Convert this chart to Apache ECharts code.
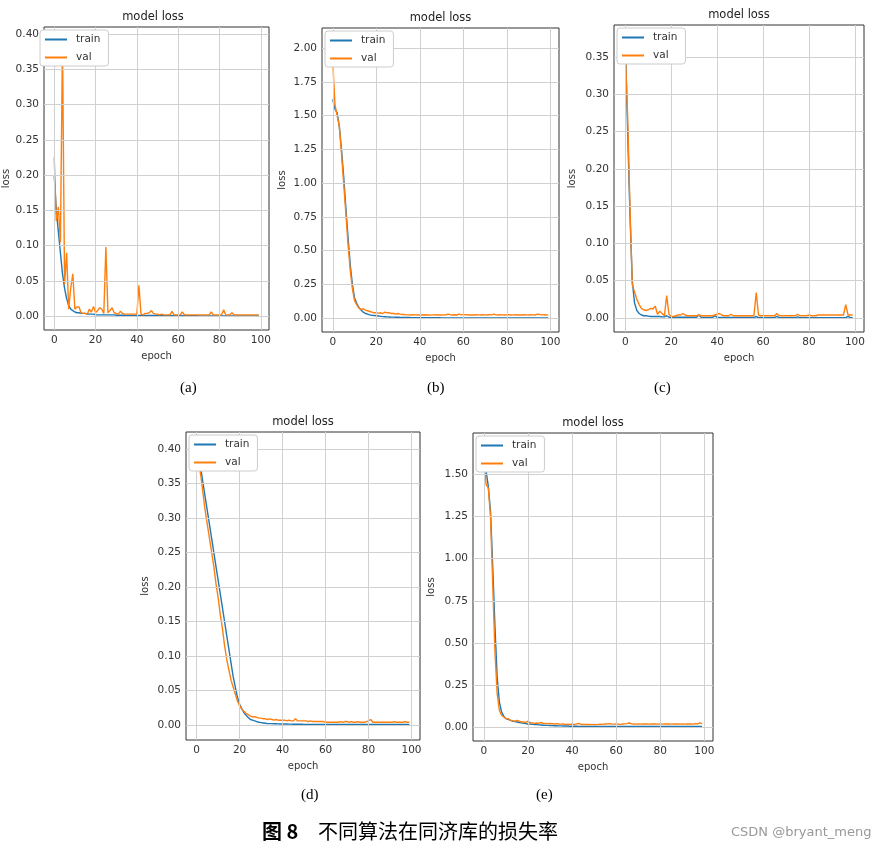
<!DOCTYPE html>
<html>
<head>
<meta charset="utf-8">
<script src="https://cdn.jsdelivr.net/npm/echarts@6/dist/echarts.min.js"></script>
<style>html,body{margin:0;padding:0;background:#fff}#main{width:878px;height:852px}</style>
</head>
<body>
<div id="main"></div>
<script>
// epoch loss curves
var trainA = [0.200,0.150,0.120,0.090,0.060,0.040,0.025,0.015,0.010,0.008,0.006,0.005,0.005,0.004,0.004,0.004,0.003,0.003,0.003,0.003,
  0.002,0.002,0.002,0.002,0.002,0.002,0.002,0.002,0.002,0.002,0.0015,0.0015,0.0015,0.0015,0.0015,0.0012,0.0012,0.0012,0.0012,0.0012,
  0.001,0.001,0.001,0.001,0.001,0.001,0.001,0.001,0.001,0.001,0.0008,0.0008,0.0008,0.0008,0.0008,0.0008,0.0008,0.0008,0.0008,0.0008,
  0.0006,0.0006,0.0006,0.0006,0.0006,0.0006,0.0006,0.0006,0.0006,0.0006,0.0005,0.0005,0.0005,0.0005,0.0005,0.0005,0.0005,0.0005,0.0005,0.0005,
  0.0005,0.0005,0.0005,0.0005,0.0005,0.0005,0.0005,0.0005,0.0005,0.0005,0.0004,0.0004,0.0004,0.0004,0.0004,0.0004,0.0004,0.0004,0.0004,0.0004];
var valA = [0.225,0.135,0.155,0.105,0.390,0.045,0.090,0.010,0.040,0.060,0.010,0.013,0.013,0.005,0.004,0.004,0.003,0.010,0.006,0.014,
  0.005,0.008,0.012,0.010,0.004,0.098,0.005,0.008,0.012,0.005,0.004,0.003,0.007,0.004,0.003,0.003,0.003,0.003,0.003,0.003,
  0.003,0.044,0.003,0.002,0.004,0.004,0.005,0.008,0.004,0.003,0.003,0.002,0.003,0.002,0.002,0.002,0.002,0.007,0.002,0.002,
  0.002,0.002,0.006,0.002,0.002,0.002,0.002,0.002,0.002,0.002,0.002,0.002,0.002,0.002,0.002,0.002,0.006,0.002,0.002,0.002,
  0.002,0.002,0.009,0.002,0.002,0.002,0.005,0.002,0.002,0.002,0.002,0.002,0.002,0.002,0.002,0.002,0.002,0.002,0.002,0.002];

var trainB = [1.62,1.55,1.52,1.42,1.25,1.05,0.82,0.60,0.40,0.25,0.15,0.11,0.08,0.06,0.045,0.035,0.030,0.025,0.022,0.020,
  0.018,0.016,0.014,0.012,0.011,0.010,0.009,0.008,0.008,0.007,0.007,0.006,0.006,0.005,0.005,0.005,0.004,0.004,0.004,0.003,
  0.003,0.003,0.003,0.003,0.003,0.003,0.003,0.003,0.003,0.003,0.002,0.002,0.002,0.002,0.002,0.002,0.002,0.002,0.002,0.002,
  0.002,0.002,0.002,0.002,0.002,0.002,0.002,0.002,0.002,0.002,0.002,0.002,0.002,0.002,0.002,0.002,0.002,0.002,0.002,0.002,
  0.002,0.002,0.002,0.002,0.002,0.002,0.002,0.002,0.002,0.002,0.002,0.002,0.002,0.002,0.002,0.002,0.002,0.002,0.002,0.002];
var valB = [1.90,1.58,1.50,1.42,1.22,1.00,0.78,0.55,0.36,0.22,0.13,0.10,0.075,0.065,0.070,0.060,0.055,0.050,0.045,0.040,
  0.040,0.038,0.040,0.035,0.045,0.040,0.040,0.035,0.035,0.030,0.035,0.030,0.028,0.027,0.025,0.025,0.024,0.026,0.025,0.024,
  0.025,0.024,0.026,0.024,0.025,0.023,0.025,0.026,0.024,0.025,0.024,0.025,0.026,0.030,0.025,0.024,0.026,0.024,0.030,0.025,
  0.028,0.025,0.026,0.024,0.025,0.024,0.026,0.025,0.024,0.026,0.025,0.024,0.026,0.025,0.030,0.025,0.024,0.026,0.025,0.024,
  0.025,0.026,0.024,0.025,0.026,0.024,0.025,0.024,0.026,0.025,0.024,0.026,0.025,0.024,0.030,0.028,0.025,0.026,0.024,0.025];

var trainC = [0.370,0.250,0.140,0.050,0.020,0.010,0.006,0.004,0.003,0.003,0.0025,0.002,0.002,0.002,0.002,0.002,0.0015,0.0015,0.003,0.001,
  0.001,0.001,0.001,0.001,0.001,0.001,0.001,0.001,0.001,0.001,0.001,0.001,0.004,0.001,0.0008,0.0008,0.0008,0.0008,0.0008,0.003,
  0.0008,0.0008,0.0008,0.0008,0.0008,0.0008,0.0008,0.0006,0.0006,0.0006,0.0006,0.0006,0.0006,0.0006,0.0006,0.0006,0.0006,0.002,0.0006,0.0006,
  0.0005,0.0005,0.0005,0.0005,0.0005,0.0005,0.002,0.0005,0.0005,0.0005,0.0005,0.0005,0.0005,0.0005,0.0005,0.0015,0.0005,0.0005,0.0005,0.0005,
  0.0005,0.0005,0.0005,0.0005,0.0005,0.0005,0.0005,0.0005,0.0005,0.0005,0.0005,0.0005,0.0005,0.0005,0.0005,0.0005,0.0005,0.002,0.0005,0.0005];
var valC = [0.355,0.270,0.150,0.045,0.035,0.025,0.018,0.013,0.011,0.010,0.011,0.013,0.012,0.016,0.005,0.009,0.006,0.003,0.030,0.005,
  0.002,0.002,0.003,0.004,0.004,0.006,0.004,0.003,0.003,0.003,0.003,0.003,0.004,0.003,0.003,0.003,0.003,0.003,0.003,0.004,
  0.005,0.006,0.004,0.003,0.003,0.003,0.005,0.003,0.003,0.003,0.003,0.003,0.003,0.003,0.003,0.003,0.003,0.034,0.004,0.003,
  0.003,0.003,0.003,0.003,0.003,0.003,0.006,0.003,0.003,0.003,0.003,0.003,0.003,0.003,0.003,0.005,0.003,0.003,0.003,0.003,
  0.004,0.003,0.003,0.003,0.004,0.004,0.004,0.004,0.004,0.004,0.004,0.004,0.004,0.004,0.004,0.004,0.018,0.004,0.004,0.004];

var trainD = [0.400,0.385,0.370,0.350,0.330,0.310,0.290,0.270,0.250,0.230,0.210,0.190,0.170,0.150,0.130,0.110,0.090,0.070,0.055,0.040,
  0.030,0.024,0.018,0.014,0.011,0.008,0.007,0.006,0.005,0.004,0.0035,0.003,0.0025,0.002,0.002,0.002,0.0018,0.0018,0.0016,0.0015,
  0.0015,0.0014,0.0014,0.0013,0.0013,0.0012,0.0012,0.0012,0.0011,0.0011,0.001,0.001,0.001,0.001,0.001,0.001,0.001,0.001,0.001,0.001,
  0.001,0.001,0.001,0.001,0.001,0.001,0.001,0.001,0.001,0.001,0.001,0.001,0.001,0.001,0.001,0.001,0.001,0.001,0.001,0.001,
  0.001,0.001,0.001,0.001,0.001,0.001,0.001,0.001,0.001,0.001,0.001,0.001,0.001,0.001,0.001,0.001,0.001,0.001,0.001,0.001];
var valD = [0.400,0.380,0.360,0.335,0.310,0.290,0.270,0.250,0.230,0.205,0.185,0.160,0.140,0.115,0.095,0.080,0.065,0.055,0.045,0.035,
  0.028,0.023,0.020,0.017,0.015,0.013,0.012,0.012,0.011,0.010,0.010,0.009,0.009,0.008,0.009,0.008,0.007,0.008,0.007,0.007,
  0.007,0.007,0.006,0.007,0.006,0.006,0.009,0.006,0.006,0.006,0.006,0.006,0.005,0.006,0.005,0.005,0.005,0.005,0.005,0.005,
  0.004,0.004,0.004,0.004,0.004,0.004,0.004,0.005,0.004,0.005,0.005,0.004,0.005,0.004,0.004,0.005,0.004,0.004,0.004,0.005,
  0.006,0.008,0.004,0.004,0.004,0.004,0.004,0.004,0.004,0.004,0.004,0.004,0.005,0.004,0.004,0.004,0.004,0.005,0.004,0.004];

var trainE = [1.66,1.52,1.43,1.28,0.95,0.60,0.30,0.15,0.09,0.065,0.050,0.045,0.040,0.035,0.032,0.030,0.027,0.025,0.022,0.020,
  0.018,0.017,0.016,0.015,0.014,0.013,0.012,0.011,0.010,0.010,0.009,0.009,0.008,0.008,0.007,0.007,0.006,0.006,0.006,0.005,
  0.005,0.005,0.005,0.004,0.004,0.004,0.004,0.004,0.004,0.004,0.003,0.003,0.003,0.003,0.003,0.003,0.003,0.003,0.003,0.003,
  0.003,0.003,0.003,0.003,0.003,0.003,0.003,0.003,0.003,0.003,0.003,0.003,0.003,0.003,0.003,0.003,0.003,0.003,0.003,0.003,
  0.003,0.003,0.003,0.003,0.003,0.003,0.003,0.003,0.003,0.003,0.003,0.003,0.003,0.003,0.003,0.003,0.003,0.003,0.003,0.003];
var valE = [1.62,1.44,1.42,1.25,0.85,0.45,0.20,0.10,0.07,0.06,0.05,0.05,0.04,0.038,0.035,0.040,0.035,0.030,0.030,0.028,
  0.035,0.025,0.025,0.022,0.024,0.022,0.028,0.020,0.022,0.020,0.022,0.020,0.018,0.020,0.018,0.017,0.018,0.016,0.017,0.016,
  0.017,0.016,0.018,0.022,0.016,0.015,0.016,0.015,0.016,0.014,0.015,0.014,0.016,0.017,0.016,0.018,0.019,0.020,0.018,0.017,
  0.018,0.017,0.016,0.018,0.019,0.020,0.024,0.019,0.018,0.017,0.018,0.017,0.018,0.019,0.018,0.017,0.018,0.019,0.018,0.017,
  0.018,0.017,0.018,0.019,0.018,0.017,0.018,0.019,0.018,0.017,0.018,0.017,0.018,0.019,0.018,0.017,0.020,0.018,0.025,0.020];

var xTicks = [0, 20, 40, 60, 80, 100];
var panels = [
  { train: trainA, val: valA, yMin: -0.0195, yMax: 0.41, yTicks: [0, 0.05, 0.10, 0.15, 0.20, 0.25, 0.30, 0.35, 0.40],
    box: [37, 27, 232, 303], gap: 33 },
  { train: trainB, val: valB, yMin: -0.102, yMax: 2.148, yTicks: [0, 0.25, 0.5, 0.75, 1.0, 1.25, 1.5, 1.75, 2.0],
    box: [322, 28, 237, 304], gap: 35 },
  { train: trainC, val: valC, yMin: -0.0188, yMax: 0.393, yTicks: [0, 0.05, 0.10, 0.15, 0.20, 0.25, 0.30, 0.35],
    box: [614, 25, 250, 307], gap: 37 },
  { train: trainD, val: valD, yMin: -0.0217, yMax: 0.4246, yTicks: [0, 0.05, 0.10, 0.15, 0.20, 0.25, 0.30, 0.35, 0.40],
    box: [186, 432, 234, 308], gap: 36 },
  { train: trainE, val: valE, yMin: -0.083, yMax: 1.747, yTicks: [0, 0.25, 0.5, 0.75, 1.0, 1.25, 1.5],
    box: [473, 433, 240, 308], gap: 37 }
];

var font = 'DejaVu Sans';
var grids = [], xAxes = [], yAxes = [], series = [], legends = [], graphics = [];

function pairs(arr) {
  return arr.map(function (v, i) { return [i, v]; });
}

panels.forEach(function (p, k) {
  var b = p.box;
  grids.push({ left: b[0], top: b[1], width: b[2], height: b[3], show: true,
    borderColor: '#333', borderWidth: 1, backgroundColor: 'transparent' });
  xAxes.push({
    type: 'value', gridIndex: k, min: -4.95, max: 103.95,
    name: 'epoch', nameLocation: 'middle', nameGap: 21,
    nameTextStyle: { fontFamily: font, fontSize: 10, color: '#333' },
    axisLine: { show: false },
    axisTick: { show: true, length: 3, customValues: xTicks, lineStyle: { color: '#333' } },
    axisLabel: { customValues: xTicks, fontFamily: font, fontSize: 10.5, color: '#333', margin: 5 },
    splitLine: { show: false }
  });
  yAxes.push({
    type: 'value', gridIndex: k, min: p.yMin, max: p.yMax,
    name: 'loss', nameLocation: 'middle', nameGap: p.gap, nameRotate: 90,
    nameTextStyle: { fontFamily: font, fontSize: 10, color: '#333' },
    axisLine: { show: false },
    axisTick: { show: true, length: 3, customValues: p.yTicks, lineStyle: { color: '#333' } },
    axisLabel: { customValues: p.yTicks, fontFamily: font, fontSize: 10.5, color: '#333', margin: 5,
      formatter: function (v) { return v.toFixed(2); } },
    splitLine: { show: false }
  });
  // grid lines at the tick values
  var gridLines = xTicks.map(function (t) { return { xAxis: t }; })
    .concat(p.yTicks.map(function (t) { return { yAxis: t }; }));
  series.push({ name: 'grid', type: 'line', xAxisIndex: k, yAxisIndex: k, data: [], z: 1,
    markLine: { silent: true, symbol: 'none', animation: false, label: { show: false },
      lineStyle: { color: '#d0d0d0', width: 1, type: 'solid' }, data: gridLines } });
  series.push({ name: 'train', type: 'line', xAxisIndex: k, yAxisIndex: k, data: pairs(p.train), z: 3,
    showSymbol: false, lineStyle: { color: '#1f77b4', width: 1.4 }, itemStyle: { color: '#1f77b4' } });
  series.push({ name: 'val', type: 'line', xAxisIndex: k, yAxisIndex: k, data: pairs(p.val), z: 4,
    showSymbol: false, lineStyle: { color: '#ff7f0e', width: 1.4 }, itemStyle: { color: '#ff7f0e' } });
  legends.push({
    z: 20, zlevel: 1,
    left: b[0] + 3, top: b[1] + 3, orient: 'vertical', data: ['train', 'val'],
    icon: 'rect', itemWidth: 22, itemHeight: 2, itemGap: 7,
    backgroundColor: '#fff', borderColor: '#ccc', borderWidth: 1, borderRadius: 3,
    padding: [4, 8, 3, 5], selectedMode: false,
    textStyle: { fontFamily: font, fontSize: 10.5, color: '#333', padding: [0, 0, 0, 4] }
  });
  graphics.push({ type: 'text', x: b[0] + b[2] / 2, y: b[1] - 4,
    style: { text: 'model loss', font: '11.5px "DejaVu Sans"', fill: '#222', textAlign: 'center', textVerticalAlign: 'bottom' } });
});

// captions
var caps = [[190, 381, '(a)'], [437, 381, '(b)'], [664, 381, '(c)'], [311, 788, '(d)'], [546, 788, '(e)']];
caps.forEach(function (c) {
  graphics.push({ type: 'text', left: c[0] - 10, top: c[1],
    style: { text: c[2], font: '15px "Liberation Serif"', fill: '#000' } });
});
graphics.push({ type: 'text', left: 262, top: 821,
  style: { text: '图 8', font: 'bold 20px "Noto Sans CJK SC"', fill: '#000' } });
graphics.push({ type: 'text', left: 318, top: 821,
  style: { text: '不同算法在同济库的损失率', font: '20px "Noto Sans CJK SC"', fill: '#000' } });
graphics.push({ type: 'text', left: 731, top: 826,
  style: { text: 'CSDN @bryant_meng', font: '13px "DejaVu Sans"', fill: '#999' } });

var myChart = echarts.init(document.getElementById('main'));
myChart.setOption({
  animation: false,
  backgroundColor: '#fff',
  grid: grids,
  xAxis: xAxes,
  yAxis: yAxes,
  legend: legends,
  series: series,
  graphic: graphics
});
</script>
</body>
</html>
